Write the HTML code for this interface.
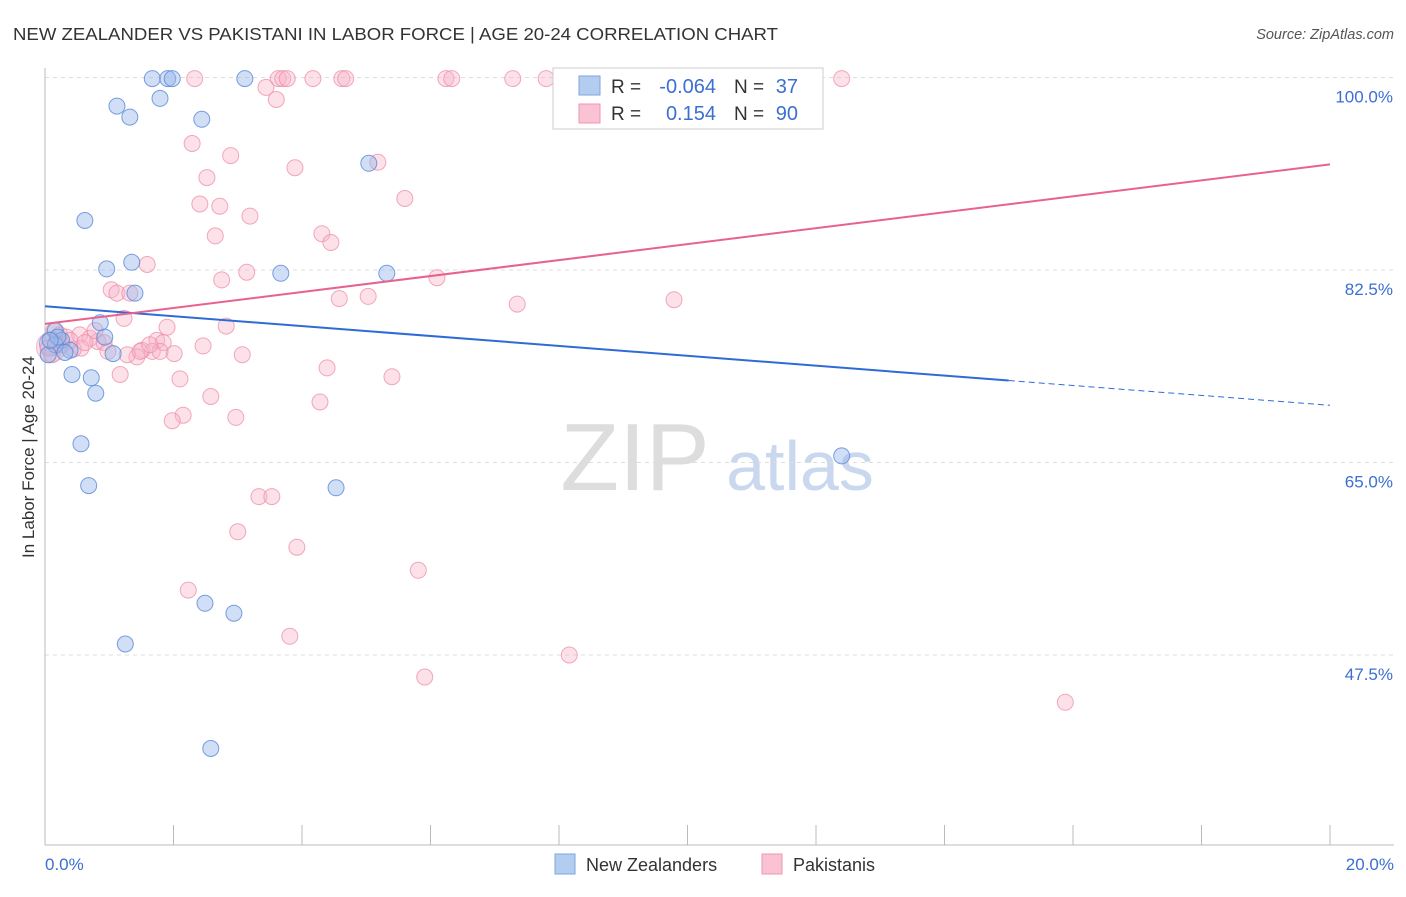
<!DOCTYPE html>
<html><head><meta charset="utf-8">
<style>
body{margin:0;background:#fff;font-family:"Liberation Sans",sans-serif;}
svg text{font-family:"Liberation Sans",sans-serif;}
</style></head>
<body>
<svg id="chart" width="1406" height="892">
<text x="13" y="40" font-size="17.5" fill="#333" textLength="765" lengthAdjust="spacingAndGlyphs">NEW ZEALANDER VS PAKISTANI IN LABOR FORCE | AGE 20-24 CORRELATION CHART</text>
<text x="1394" y="39" font-size="14.5" fill="#555" font-style="italic" text-anchor="end">Source: ZipAtlas.com</text>
<text x="34" y="457" font-size="17" fill="#333" text-anchor="middle" transform="rotate(-90 34 457)">In Labor Force | Age 20-24</text>
<g>
<text x="635" y="490" font-size="96" fill="#ddd" font-family="Liberation Serif" text-anchor="middle">ZIP</text>
<text x="800" y="490" font-size="70" fill="#c9d8ee" text-anchor="middle">atlas</text>
</g>
<g id="grid"></g>
<g id="axes"></g>
<g id="points"></g>
<g id="lines"></g>
<g>
<rect x="553" y="68" width="270" height="61" fill="#fff" stroke="#ccc"/>
<rect x="579" y="76" width="21" height="19" fill="#b3cdf0" stroke="#7ea6e0"/>
<rect x="579" y="104" width="21" height="19" fill="#f9c3d3" stroke="#f096b3"/>
<text x="611" y="93" font-size="19" fill="#333">R =</text><text x="716" y="93" font-size="20" fill="#3b6fd1" text-anchor="end">-0.064</text>
<text x="734" y="93" font-size="19" fill="#333">N =</text><text x="798" y="93" font-size="20" fill="#3b6fd1" text-anchor="end">37</text>
<text x="611" y="120" font-size="19" fill="#333">R =</text><text x="716" y="120" font-size="20" fill="#3b6fd1" text-anchor="end">0.154</text>
<text x="734" y="120" font-size="19" fill="#333">N =</text><text x="798" y="120" font-size="20" fill="#3b6fd1" text-anchor="end">90</text>
</g>
<g>
<rect x="555" y="854" width="20" height="20" fill="#b3cdf0" stroke="#7ea6e0"/>
<text x="586" y="871" font-size="18" fill="#333">New Zealanders</text>
<rect x="762" y="854" width="20" height="20" fill="#f9c3d3" stroke="#f096b3"/>
<text x="793" y="871" font-size="18" fill="#333">Pakistanis</text>
</g>
</svg>
<script>
const blueX=[1.67,1.91,1.98,3.11,1.12,1.32,1.79,2.44,5.04,0.62,0.96,1.35,3.67,5.32,1.40,0.86,0.93,0.16,0.26,0.39,1.06,0.42,0.72,0.79,0.56,0.68,4.53,2.49,2.94,1.25,2.58,12.40,0.16,0.05,0.2,0.31,0.08];
const blueY=[99.9,99.9,99.9,99.9,97.4,96.4,98.1,96.2,92.2,87.0,82.6,83.2,82.2,82.2,80.4,77.7,76.4,77.0,76.1,75.2,74.9,73.0,72.7,71.3,66.7,62.9,62.7,52.2,51.3,48.5,39.0,65.6,75.7,74.8,76.4,75.0,76.1];
const pinkX=[2.33,3.63,3.70,3.77,4.17,4.62,4.68,6.24,6.33,7.28,7.80,9.35,12.40,3.44,3.60,2.29,2.89,3.89,5.18,2.52,5.60,2.41,2.72,3.19,2.65,4.31,4.45,1.59,3.14,2.75,6.10,1.03,1.12,1.32,4.58,5.03,7.35,9.79,1.23,2.82,1.90,0.14,0.23,0.33,0.54,0.70,0.82,0.92,1.74,1.84,2.46,3.07,2.01,1.67,1.51,1.43,1.28,0.56,0.44,0.17,1.17,2.10,4.39,5.40,2.58,4.28,2.15,1.98,2.97,3.33,3.53,3.00,3.92,5.81,2.23,3.81,8.16,5.91,15.88,0.05,0.11,0.26,0.98,0.78,0.39,0.62,1.48,1.79,1.63];
const pinkY=[99.9,99.9,99.9,99.9,99.9,99.9,99.9,99.9,99.9,99.9,99.9,99.9,99.9,99.1,98.0,94.0,92.9,91.8,92.3,90.9,89.0,88.5,88.3,87.4,85.6,85.8,85.0,83.0,82.3,81.6,81.8,80.7,80.4,80.4,79.9,80.1,79.4,79.8,78.1,77.4,77.3,77.0,76.6,76.4,76.6,76.3,76.0,75.9,76.1,75.9,75.6,74.8,74.9,75.1,75.2,74.6,74.8,75.4,75.3,75.9,73.0,72.6,73.6,72.8,71.0,70.5,69.3,68.8,69.1,61.9,61.9,58.7,57.3,55.2,53.4,49.2,47.5,45.5,43.2,75.4,74.8,75.7,75.1,77.0,76.1,75.9,75.1,75.1,75.7];
const yTicks=[100,82.5,65,47.5];
const yTickLabels=["100.0%","82.5%","65.0%","47.5%"];
const xTicks=[0,2,4,6,8,10,12,14,16,18,20];
const blueTrend=[79.2,70.2];
const pinkTrend=[77.6,92.1];
const blueSolidEnd=15;

const NS="http://www.w3.org/2000/svg";
const sx=v=>45+v*64.25;
const sy=v=>77.5+(100-v)*11;
function mk(tag,attrs,parent){const e=document.createElementNS(NS,tag);for(const k in attrs)e.setAttribute(k,attrs[k]);parent.appendChild(e);return e;}
const grid=document.getElementById('grid'),axes=document.getElementById('axes'),pts=document.getElementById('points'),lines=document.getElementById('lines');
yTicks.forEach((t,i)=>{
 const g=mk('line',{x1:45,x2:1394,y1:sy(t),y2:sy(t),stroke:'#ddd','stroke-dasharray':'4,4'},grid);
 
 
 const l=mk('text',{x:1393,y:sy(t)+25,'font-size':17,fill:'#3b6fd1','text-anchor':'end'},axes);
 l.textContent=yTickLabels[i];
 
 
});
let a=mk('line',{x1:45,x2:45,y1:68,y2:845,stroke:'#bbb'},axes);


a=mk('line',{x1:45,x2:1394,y1:845,y2:845,stroke:'#bbb'},axes);


xTicks.forEach(t=>{
 const e=mk('line',{x1:sx(t),x2:sx(t),y1:825,y2:845,stroke:'#bbb'},axes);
 
 
});
let t0=mk('text',{x:45,y:870,'font-size':17,fill:'#3b6fd1'},axes);t0.textContent='0.0%';


let t1=mk('text',{x:1394,y:870,'font-size':17,fill:'#3b6fd1','text-anchor':'end'},axes);t1.textContent='20.0%';


let big=mk('circle',{cx:sx(0.1),cy:sy(75.5),r:15,fill:'rgba(240,150,180,0.3)',stroke:'rgba(240,150,180,0.6)'},pts);


big=mk('circle',{cx:sx(0.1),cy:sy(75.8),r:12,fill:'rgba(130,170,230,0.3)',stroke:'rgba(100,140,220,0.6)'},pts);


pinkX.forEach((x,i)=>{
 const c=mk('circle',{cx:sx(x),cy:sy(pinkY[i]),r:8,fill:'rgba(248,180,200,0.4)',stroke:'rgba(238,140,170,0.75)','stroke-width':1},pts);
 
 
});
blueX.forEach((x,i)=>{
 const c=mk('circle',{cx:sx(x),cy:sy(blueY[i]),r:8,fill:'rgba(150,185,235,0.45)',stroke:'rgba(90,135,215,0.8)','stroke-width':1},pts);
 
 
});
const by=x=>blueTrend[0]+(blueTrend[1]-blueTrend[0])*x/20;
let bl=mk('line',{x1:sx(0),y1:sy(by(0)),x2:sx(blueSolidEnd),y2:sy(by(blueSolidEnd)),stroke:'#2f6bd6','stroke-width':2},lines);


bl=mk('line',{x1:sx(blueSolidEnd),y1:sy(by(blueSolidEnd)),x2:sx(20),y2:sy(by(20)),stroke:'#2f6bd6','stroke-width':1,'stroke-dasharray':'6,4'},lines);


let pl=mk('line',{x1:sx(0),y1:sy(pinkTrend[0]),x2:sx(20),y2:sy(pinkTrend[1]),stroke:'#e8628f','stroke-width':2},lines);


</script>
</body></html>
